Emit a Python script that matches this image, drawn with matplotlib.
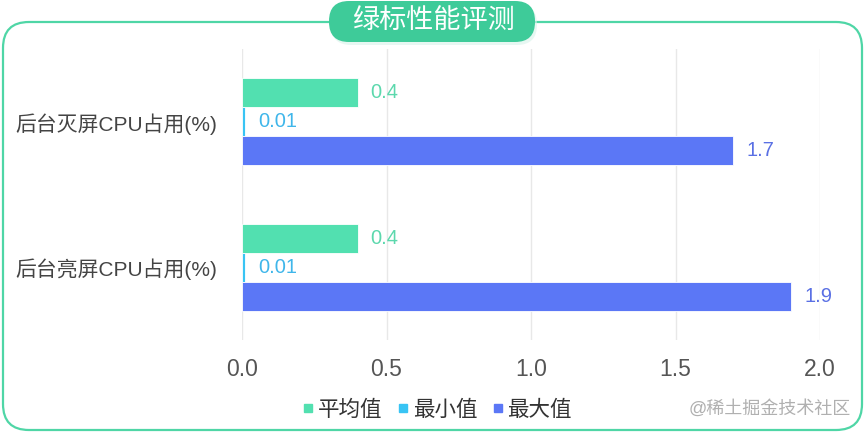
import numpy as np
import matplotlib
matplotlib.use("Agg")
import matplotlib.pyplot as plt
from matplotlib.patches import FancyBboxPatch
from matplotlib.lines import Line2D

plt.rcParams['font.family'] = ['Liberation Sans', 'Noto Sans CJK SC', 'DejaVu Sans']

categories = ["后台灭屏CPU占用(%)", "后台亮屏CPU占用(%)"]
series_names = ["平均值", "最小值", "最大值"]
avg_vals = [0.4, 0.4]
min_vals = [0.01, 0.01]
max_vals = [1.7, 1.9]
x_ticks = [0.0, 0.5, 1.0, 1.5, 2.0]

bar_colors = ["#52e0b0", "#38c4f4", "#5b77f6"]
label_colors = ["#5cd8ad", "#3fb6ea", "#5a70e4"]

W, H = 865, 433
fig = plt.figure(figsize=(W / 100, H / 100), dpi=100)

# background layer in pixel coordinates: rounded border + title pill
bg = fig.add_axes([0, 0, 1, 1], zorder=0)
bg.set_xlim(0, W)
bg.set_ylim(H, 0)
bg.axis("off")
bg.add_patch(FancyBboxPatch((3, 22), 859, 408,
                            boxstyle="round,pad=0,rounding_size=26",
                            fc="white", ec="#4fd6a6", lw=1.6))
bg.add_patch(FancyBboxPatch((331, 4), 206, 41,
                            boxstyle="round,pad=0,rounding_size=20",
                            fc="#d8f3ea", ec="none", alpha=0.6))
bg.add_patch(FancyBboxPatch((329, 1), 206, 41,
                            boxstyle="round,pad=0,rounding_size=20",
                            fc="#3ecb99", ec="none"))
bg.text(433, 21, "绿标性能评测", color="white", fontsize=19.5,
        ha="center", va="center")
bg.text(851, 409, "@稀土掘金技术社区", color="#b0b0b0", fontsize=13,
        ha="right", va="center")

ax = fig.add_axes([242 / W, 1 - 340 / H, (820 - 242) / W, (340 - 49) / H], zorder=1)
ax.patch.set_alpha(0)

y = np.arange(len(categories))
h = 0.2
data = [avg_vals, min_vals, max_vals]
for i, vals in enumerate(data):
    pos = y + (i - 1) * h
    ax.barh(pos, vals, height=h, color=bar_colors[i], edgecolor="white",
            linewidth=0.6, zorder=2)
    for p, v in zip(pos, vals):
        ax.text(v + 0.045, p, f"{v:g}", color=label_colors[i], fontsize=14.5,
                va="center", ha="left")

ax.set_xlim(0, 2)
ax.set_ylim(1.5, -0.5)
ax.set_xticks(x_ticks)
ax.set_xticklabels([f"{t:.1f}" for t in x_ticks])
ax.set_yticks(y)
ax.set_yticklabels(categories)
ax.tick_params(axis="x", length=0, pad=13, labelsize=16.5, labelcolor="#555555")
ax.tick_params(axis="y", length=0, pad=18, labelsize=15, labelcolor="#444444")
ax.grid(axis="x", color="#e8e8e8", lw=1, zorder=0)
for s in ax.spines.values():
    s.set_visible(False)

handles = [Line2D([], [], marker="s", ls="none", markersize=5.5,
                  markerfacecolor=c, markeredgecolor=c) for c in bar_colors]
fig.legend(handles, series_names, loc="center", bbox_to_anchor=(0.505, 0.053),
           ncol=3, frameon=False, fontsize=15.5, handletextpad=0.15,
           columnspacing=0.65, handlelength=0.6, labelcolor="#333333")

fig.savefig("out.png", dpi=100)
